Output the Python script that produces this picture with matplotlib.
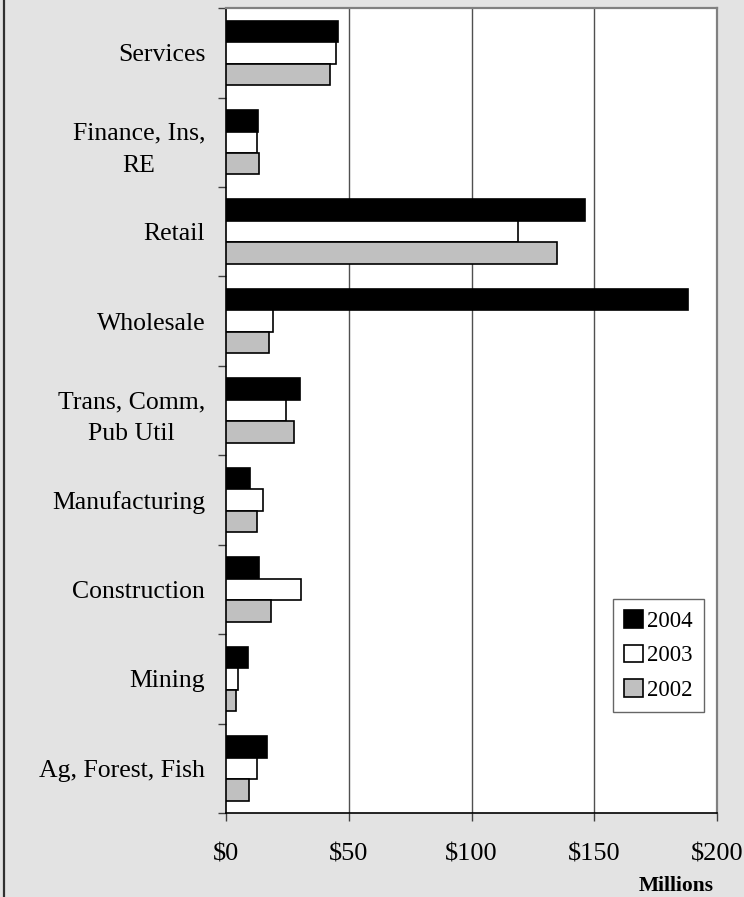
import matplotlib

matplotlib.use("Agg", force=True)

import matplotlib.pyplot as plt
import numpy as np
from matplotlib.lines import Line2D
from matplotlib.patches import Patch

# categories listed top to bottom, values in $ millions
categories = [
    "Services",
    "Finance, Ins,\nRE",
    "Retail",
    "Wholesale",
    "Trans, Comm,\nPub Util",
    "Manufacturing",
    "Construction",
    "Mining",
    "Ag, Forest, Fish",
]
years = ["2004", "2003", "2002"]
v2004 = [45.6, 13.2, 146.4, 188.1, 30.1, 9.8, 13.3, 9.1, 16.6]
v2003 = [44.6, 12.5, 119.0, 19.0, 24.6, 15.1, 30.7, 4.9, 12.6]
v2002 = [42.2, 13.6, 134.7, 17.4, 27.7, 12.5, 18.5, 3.9, 9.4]
x_ticks = [0, 50, 100, 150, 200]
x_labels = ["$0", "$50", "$100", "$150", "$200"]

colors = ["#000000", "#ffffff", "#c0c0c0"]
bg = "#e3e3e3"

plt.rcParams["font.family"] = ["Liberation Serif", "DejaVu Serif"]

fig = plt.figure(figsize=(7.44, 8.97), dpi=100, facecolor=bg)
ax = fig.add_axes([0.3038, 0.0936, 0.660, 0.8974])
ax.set_facecolor("white")

y = np.arange(len(categories))
h = 0.24
series = [v2004, v2003, v2002]
for i, (vals, c, lab) in enumerate(zip(series, colors, years)):
    ax.barh(y + (i - 1) * h, vals, height=h, color=c, edgecolor="black",
            linewidth=1.2, label=lab, zorder=3)

ax.set_xlim(0, 200)
ax.set_ylim(len(categories) - 0.5, -0.5)

ax.set_xticks(x_ticks)
ax.set_xticklabels(x_labels, fontsize=19)
ax.tick_params(axis="x", direction="out", length=6, width=1, color="#404040", pad=16)

ax.set_yticks(y)
ax.set_yticklabels(categories, fontsize=18.5, multialignment="center", linespacing=1.6)
ax.set_yticks(np.arange(-0.5, len(categories), 1), minor=True)
ax.tick_params(axis="y", which="major", length=0, pad=15)
ax.tick_params(axis="y", which="minor", direction="out", length=6, width=1, color="#404040")

for xv in x_ticks[1:-1]:
    ax.axvline(xv, color="#505050", linewidth=1.0, zorder=1)

for side in ["top", "right"]:
    ax.spines[side].set_color("#808080")
    ax.spines[side].set_linewidth(1.6)
for side in ["left", "bottom"]:
    ax.spines[side].set_color("black")
    ax.spines[side].set_linewidth(1.2)

handles = [Patch(facecolor=c, edgecolor="black", linewidth=1.2) for c in colors]
leg = ax.legend(handles, years, loc="upper left", bbox_to_anchor=(0.788, 0.266),
                fontsize=16.5, frameon=True, fancybox=False, handlelength=0.8,
                handleheight=0.8, handletextpad=0.2, labelspacing=0.55,
                borderpad=0.5, borderaxespad=0)
leg.get_frame().set_edgecolor("#404040")
leg.get_frame().set_linewidth(1.0)

fig.text(0.909, 0.0065, "Millions", fontsize=15.5, fontweight="bold",
         ha="center", va="baseline")

fig.add_artist(Line2D([0.006, 0.006], [0, 1], color="#303030", linewidth=1.6,
                      transform=fig.transFigure))

fig.savefig("out.png", dpi=100, facecolor=bg)
